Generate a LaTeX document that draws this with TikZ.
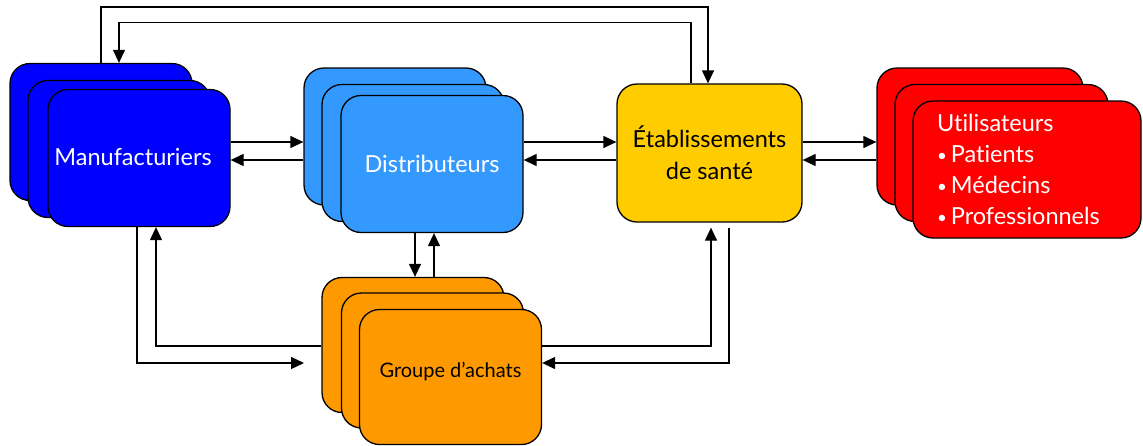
\documentclass[tikz,border=0pt]{standalone}
\usepackage{fontspec}
\setmainfont{Lato}[Ligatures=NoCommon]
\usetikzlibrary{arrows.meta,calc}

\definecolor{manufblue}{HTML}{0000FF}
\definecolor{distblue}{HTML}{3399FF}
\definecolor{etabyellow}{HTML}{FFCC00}
\definecolor{userred}{HTML}{FF0000}
\definecolor{grouporange}{HTML}{FF9900}

% small list bullet
\newcommand\puce{{\fontsize{17}{0}\selectfont\raisebox{1pt}{•}}\kern4pt}

\begin{document}
\begin{tikzpicture}[x=1pt,y=-1pt,
	every node/.style = {shape=rectangle, rounded corners=20pt, draw, line width=1.3pt,
	  align=center, inner sep=0pt, font=\fontsize{23.5}{32}\selectfont},
	card/.style={minimum width=182pt, minimum height=137pt},
	manufcard/.style={card, fill=manufblue, text=white},
	distcard/.style={card, fill=distblue, text=white},
	usercard/.style={card, fill=userred, text=white},
	groupcard/.style={card, minimum height=135pt, fill=grouporange},
	link/.style={line width=1.3pt, -{Triangle[length=13pt,width=12pt]}}
	]
  \useasboundingbox (0,0) rectangle (1143,445);

  % stacked boxes, back to front
  \node [manufcard] (manufA) at (101,132) {};
  \node [manufcard] (manufB) at (119,149) {};
  \node [manufcard] (manuf)  at (139,158) {\raisebox{3pt}{Manufacturiers}\kern12pt};

  \node [distcard] (distA) at (395,136.5) {};
  \node [distcard] (distB) at (413,153) {};
  \node [distcard] (dist)  at (432,164) {Distributeurs};

  \node [card, minimum width=185pt, minimum height=138pt, fill=etabyellow]
    (etab) at (709.5,153) {Établissements\\de santé};

  \node [usercard, minimum width=206pt] (userA) at (980,136.5) {};
  \node [usercard, minimum width=213pt] (userB) at (1001.5,153) {};
  \node [usercard, minimum width=228pt, text width=180pt, align=left,
    font=\fontsize{23.5}{31}\selectfont]
    (users) at (1027,169.5) {Utilisateurs\\\puce Patients\\\puce Médecins\\\puce Professionnels};

  \node [groupcard] (groupA) at (413,345) {};
  \node [groupcard] (groupB) at (432.5,360.5) {};
  \node [groupcard, font=\fontsize{20}{24}\selectfont] (group) at (450.5,377) {Groupe d’achats\\[-10pt]};

  \coordinate (groupin) at (304,363);

  % horizontal flows
  \draw [link] (manuf.east |- 0,142) -- (distA.west |- 0,142);
  \draw [link] (distA.west |- 0,160) -- (manuf.east |- 0,160);
  \draw [link] (dist.east |- 0,142) -- (etab.west |- 0,142);
  \draw [link] (etab.west |- 0,160) -- (dist.east |- 0,160);
  \draw [link] (etab.east |- 0,142) -- (userA.west |- 0,142);
  \draw [link] (userA.west |- 0,160) -- (etab.east |- 0,160);

  % to and from the purchasing group
  \draw [link] (dist.south -| 415,0) -- (groupA.north -| 415,0);
  \draw [link] (groupA.north -| 434,0) -- (dist.south -| 434,0);
  \draw [link] (manuf.south -| 137,0) |- (groupin);
  \draw [link] (groupA.west |- 0,346) -| (manuf.south -| 156,0);
  \draw [link, shorten >=5pt] (group.east |- 0,346) -| (etab.south -| 711,0);
  \draw [link, shorten <=5pt] (etab.south -| 729,0) |- (group.east |- 0,363);

  % long loops over the top
  \draw [link] (manufA.north -| 101,0) -- ++(0,-56) -| (etab.north -| 708,0);
  \draw [link] (etab.north -| 691,0) -- ++(0,-61) -| (manufA.north -| 119,0);
\end{tikzpicture}
\end{document}
